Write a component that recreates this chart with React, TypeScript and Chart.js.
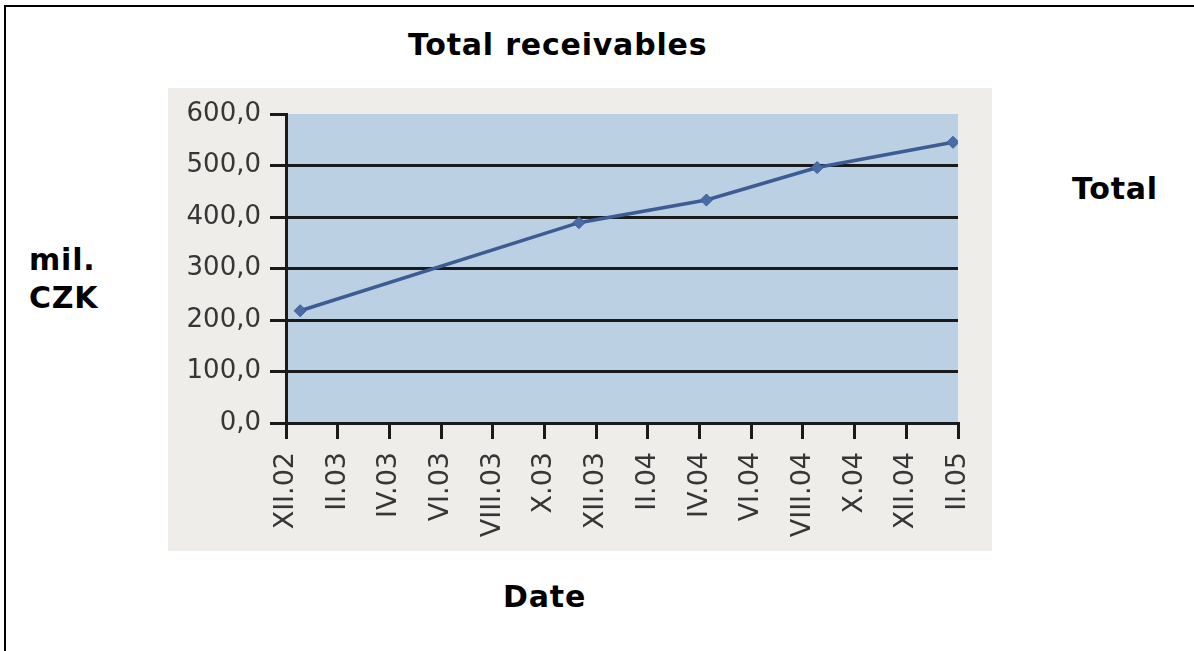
import React, { useEffect, useRef } from "react";
import { Chart, registerables } from "chart.js";

Chart.register(...registerables);

// ---- data ----
const tickLabels = [
  "XII.02", "II.03", "IV.03", "VI.03", "VIII.03", "X.03", "XII.03",
  "II.04", "IV.04", "VI.04", "VIII.04", "X.04", "XII.04", "II.05",
];
const pointDates = ["2002-12-18", "2003-11-11", "2004-04-09", "2004-08-18", "2005-01-26"];
const totalValues = [218, 389, 433, 496, 545];
const yTicks = [0, 100, 200, 300, 400, 500, 600];

const chartTitle = "Total receivables";
const yAxisTitle = ["mil.", "CZK"];
const seriesName = "Total";
const xAxisTitle = "Date";

// months elapsed since the first tick (XII.02 = Dec 2002)
function monthsSinceStart(iso: string): number {
  const [y, m, d] = iso.split("-").map(Number);
  const daysInMonth = new Date(y, m, 0).getDate();
  return (y - 2002) * 12 + (m - 12) + (d - 1) / daysInMonth;
}

const bgPlugin = {
  id: "plotBg",
  beforeDraw(chart: any) {
    const { ctx, chartArea } = chart;
    if (!chartArea) return;
    ctx.save();
    ctx.fillStyle = "#bcd0e4";
    ctx.fillRect(chartArea.left, chartArea.top, chartArea.right - chartArea.left, chartArea.bottom - chartArea.top);
    ctx.restore();
  },
};

const FONT_BOLD: React.CSSProperties = {
  position: "absolute",
  fontFamily: "'DejaVu Sans', Verdana, sans-serif",
  fontWeight: "bold",
  fontSize: 30,
  lineHeight: "30px",
  letterSpacing: "0.8px",
  color: "#000",
  whiteSpace: "nowrap",
  margin: 0,
};

export default function App() {
  const canvasRef = useRef<HTMLCanvasElement | null>(null);

  useEffect(() => {
    if (!canvasRef.current) return;
    const lineColor = "#3d5c94";
    const axisColor = "#1a1a1a";
    const chart = new Chart(canvasRef.current, {
      type: "line",
      data: {
        datasets: [
          {
            label: seriesName,
            data: pointDates.map((d, i) => ({ x: monthsSinceStart(d), y: totalValues[i] })),
            borderColor: lineColor,
            backgroundColor: lineColor,
            borderWidth: 3.5,
            pointStyle: "rectRot",
            pointRadius: 6,
            pointBackgroundColor: "#4a6ca6",
            pointBorderColor: lineColor,
            pointBorderWidth: 1,
            tension: 0,
            fill: false,
          },
        ],
      },
      options: {
        animation: false,
        responsive: false,
        maintainAspectRatio: false,
        layout: { padding: { top: 26, right: 34, left: 0, bottom: 0 } },
        plugins: {
          legend: { display: false },
          tooltip: { enabled: false },
          title: { display: false },
        },
        scales: {
          x: {
            type: "linear",
            min: 0,
            max: (tickLabels.length - 1) * 2,
            afterBuildTicks: (scale: any) => {
              scale.ticks = tickLabels.map((_, i) => ({ value: i * 2 }));
            },
            afterFit: (scale: any) => {
              scale.height = 128;
              scale.paddingLeft = 15;
              scale.paddingRight = 15;
            },
            ticks: {
              autoSkip: false,
              minRotation: 90,
              maxRotation: 90,
              padding: 13,
              color: "#363636",
              font: { family: "'DejaVu Sans', sans-serif", size: 27 },
              callback: (v: any) => tickLabels[Math.round(Number(v) / 2)] ?? "",
            },
            grid: {
              drawOnChartArea: false,
              drawTicks: true,
              tickLength: 16,
              color: axisColor,
              tickColor: axisColor,
              lineWidth: 3,
            },
            border: { display: true, color: axisColor, width: 3 },
          },
          y: {
            min: yTicks[0],
            max: yTicks[yTicks.length - 1],
            afterBuildTicks: (scale: any) => {
              scale.ticks = yTicks.map((v) => ({ value: v }));
            },
            afterFit: (scale: any) => {
              scale.width = 118;
            },
            ticks: {
              padding: 9,
              color: "#363636",
              font: { family: "'DejaVu Sans', sans-serif", size: 26 },
              callback: (v: any) => Number(v).toFixed(1).replace(".", ","),
            },
            grid: {
              color: (ctx: any) =>
                ctx.tick && ctx.tick.value === yTicks[yTicks.length - 1] ? "rgba(0,0,0,0)" : axisColor,
              tickColor: axisColor,
              lineWidth: 3,
              tickLength: 16,
            },
            border: { display: true, color: axisColor, width: 3 },
          },
        },
      },
      plugins: [bgPlugin],
    });
    return () => chart.destroy();
  }, []);

  return (
    <div style={{ position: "fixed", left: 0, top: 0, right: 0, bottom: 0, overflow: "hidden", background: "#fff" }}>
      <div
        style={{
          position: "absolute",
          left: 4,
          top: 5,
          width: 1210,
          height: 700,
          border: "2px solid #000",
          boxSizing: "border-box",
        }}
      />
      <div style={{ ...FONT_BOLD, left: 408, top: 30 }}>{chartTitle}</div>
      <div style={{ ...FONT_BOLD, left: 29, top: 245 }}>{yAxisTitle[0]}</div>
      <div style={{ ...FONT_BOLD, left: 29, top: 283 }}>{yAxisTitle[1]}</div>
      <div style={{ ...FONT_BOLD, left: 1072, top: 174 }}>{seriesName}</div>
      <div style={{ ...FONT_BOLD, left: 503, top: 582 }}>{xAxisTitle}</div>
      <div style={{ position: "absolute", left: 168, top: 88, width: 824, height: 463, background: "#efedea" }}>
        <canvas ref={canvasRef} width={824} height={463} style={{ width: 824, height: 463, display: "block" }} />
      </div>
    </div>
  );
}
